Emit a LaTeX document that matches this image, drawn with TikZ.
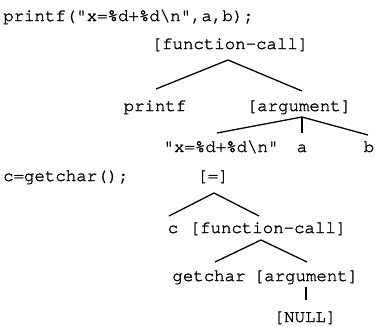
\documentclass[tikz,border=0pt]{standalone}
\usepackage{fontspec}
\newfontfamily\codefont{TeX Gyre Cursor}[FakeBold=1.6]
\begin{document}
\begin{tikzpicture}[x=1pt,y=-1pt,
  lbl/.style={font=\codefont\fontsize{17.4}{20}\selectfont, anchor=base, inner sep=0pt},
  src/.style={lbl, anchor=base west},
  edge/.style={line width=1.3pt}]
\useasboundingbox (0,0) rectangle (376,327);

% source lines
\node[src] (s1) at (3,21) {printf("x=\%d+\%d\textbackslash n",a,b);};
\node[src] (s2) at (3,181) {c=getchar();};

% tree for the printf call
\node[lbl] (fc1) at (230,49) {[function-call]};
\node[lbl] (pf)  at (155,111) {printf};
\node[lbl] (arg1) at (299,111) {[argument]};
\node[lbl] (str) at (221,152) {"x=\%d+\%d\textbackslash n"};
\node[lbl] (va)  at (302,152) {a};
\node[lbl] (vb)  at (369,152) {b};

\coordinate (fc1-top) at (228,60);
\coordinate (pf-end) at (156,89);
\coordinate (arg1-end) at (302,91);
\coordinate (arg1-top) at (302,117);
\coordinate (str-end) at (217,133);
\coordinate (va-end) at (302,133);
\coordinate (vb-end) at (368,135);
\draw[edge] (pf-end) -- (fc1-top) -- (arg1-end);
\draw[edge] (str-end) -- (arg1-top) -- (vb-end);
\draw[edge] (arg1-top) -- (va-end);

% tree for the assignment
\node[lbl] (eq)  at (213,181) {[=]};
\node[lbl] (vc)  at (173,233) {c};
\node[lbl] (fc2) at (268,233) {[function-call]};
\node[lbl] (gc)  at (209,281) {getchar};
\node[lbl] (arg2) at (306,281) {[argument]};
\node[lbl] (nul) at (305,322) {[NULL]};

\coordinate (eq-top) at (214,193);
\coordinate (vc-end) at (169,216);
\coordinate (fc2-end) at (259,216);
\coordinate (fc2-top) at (261,240);
\coordinate (gc-end) at (215,262);
\coordinate (arg2-end) at (307,262);
\coordinate (arg2-top) at (306,287);
\coordinate (nul-end) at (306,300);
\draw[edge] (vc-end) -- (eq-top) -- (fc2-end);
\draw[edge] (gc-end) -- (fc2-top) -- (arg2-end);
\draw[edge] (arg2-top) -- (nul-end);
\end{tikzpicture}
\end{document}
